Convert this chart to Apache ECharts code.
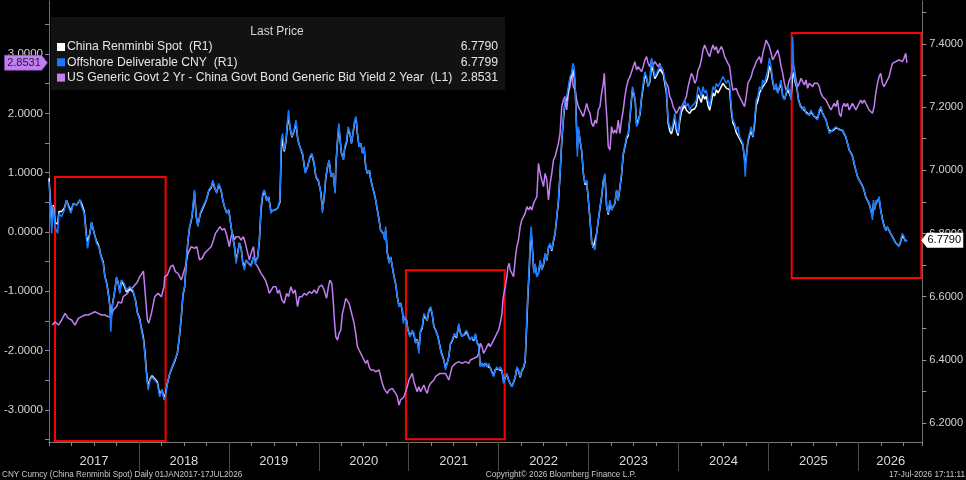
<!DOCTYPE html>
<html>
<head>
<meta charset="utf-8">
<style>
html, body { margin: 0; padding: 0; background: #000; }
#main { width: 966px; height: 480px; }
</style>
<script src="https://cdn.jsdelivr.net/npm/echarts@6/dist/echarts.min.js"></script>
</head>
<body>
<div id="main"></div>
<script>
// US 2Y minus China 2Y yield spread (left axis), [year, value]
var spreadData = [
[2017.037,-1.569],[2017.067,-1.512],[2017.104,-1.569],[2017.141,-1.484],[2017.178,-1.372],[2017.215,-1.456],[2017.252,-1.484],[2017.289,-1.569],[2017.326,-1.456],[2017.363,-1.428],[2017.399,-1.400],[2017.436,-1.400],[2017.473,-1.372],[2017.510,-1.344],[2017.547,-1.372],[2017.584,-1.400],[2017.621,-1.400],[2017.658,-1.428],[2017.688,-1.428],[2017.714,-1.316],[2017.732,-1.30],[2017.751,-1.259],[2017.770,-1.18],[2017.788,-1.147],[2017.806,-1.20],[2017.825,-1.09],[2017.843,-1.063],[2017.870,-1.04],[2017.898,-0.978],[2017.920,-0.99],[2017.935,-0.93],[2017.954,-0.894],[2017.980,-0.85],[2018.009,-0.754],[2018.030,-0.74],[2018.050,-0.66],[2018.065,-0.641],[2018.076,-1.147],[2018.094,-1.484],[2018.109,-1.540],[2018.139,-1.372],[2018.176,-1.091],[2018.213,-1.035],[2018.250,-1.091],[2018.279,-0.922],[2018.287,-0.754],[2018.316,-0.726],[2018.353,-0.585],[2018.379,-0.557],[2018.405,-0.669],[2018.434,-0.697],[2018.471,-0.810],[2018.490,-0.782],[2018.516,-0.585],[2018.545,-0.360],[2018.582,-0.248],
[2018.593,-0.248],[2018.618,-0.276],[2018.644,-0.248],[2018.674,-0.472],[2018.703,-0.444],[2018.729,-0.360],[2018.766,-0.304],[2018.803,-0.248],[2018.829,-0.135],[2018.851,-0.023],[2018.877,0.033],[2018.903,0.090],[2018.925,0.033],[2018.951,0.061],[2018.970,-0.023],[2018.988,-0.135],[2019.006,-0.248],[2019.025,-0.079],[2019.043,-0.023],[2019.062,-0.135],[2019.080,-0.079],[2019.110,-0.079],[2019.136,-0.135],[2019.162,-0.079],[2019.184,-0.191],[2019.210,-0.360],[2019.228,-0.472],[2019.247,-0.360],[2019.273,-0.248],[2019.295,-0.529],[2019.321,-0.585],[2019.339,-0.585],[2019.358,-0.697],[2019.383,-0.754],[2019.406,-0.810],[2019.431,-0.922],[2019.450,-1.035],[2019.468,-1.007],[2019.494,-0.922],[2019.524,-0.922],[2019.542,-1.035],[2019.561,-0.978],[2019.590,-1.147],[2019.616,-1.203],[2019.642,-1.035],[2019.664,-1.091],[2019.690,-0.922],[2019.716,-1.035],[2019.738,-0.978],[2019.764,-1.259],[2019.783,-1.091],[2019.812,-1.091],[2019.838,-1.035],[2019.864,-1.063],[2019.893,-1.007],[2019.923,-1.035],[2019.949,-0.978],[2019.975,-1.035],[2020.004,-0.922],[2020.034,-0.894],[2020.060,-0.978],[2020.086,-1.119],[2020.108,-0.922],[2020.123,-0.810],[2020.145,-0.866],[2020.160,-1.147],[2020.174,-1.484],
[2020.189,-1.765],[2020.208,-1.822],[2020.226,-1.709],[2020.245,-1.653],[2020.263,-1.372],[2020.282,-1.259],[2020.300,-1.119],[2020.319,-1.147],[2020.337,-1.203],[2020.356,-1.316],[2020.374,-1.428],[2020.393,-1.540],[2020.411,-1.709],[2020.430,-1.934],[2020.448,-1.990],[2020.467,-2.046],[2020.485,-2.103],[2020.504,-2.103],[2020.522,-2.215],[2020.541,-2.159],[2020.559,-2.271],[2020.578,-2.327],[2020.607,-2.327],[2020.633,-2.356],[2020.651,-2.384],[2020.670,-2.327],[2020.688,-2.440],[2020.707,-2.552],[2020.725,-2.636],[2020.744,-2.665],[2020.762,-2.721],[2020.781,-2.665],[2020.799,-2.693],[2020.818,-2.636],[2020.836,-2.665],[2020.855,-2.721],[2020.873,-2.777],[2020.892,-2.918],[2020.910,-2.833],[2020.929,-2.805],[2020.947,-2.777],[2020.966,-2.693],[2020.984,-2.608],[2021.003,-2.496],[2021.021,-2.440],[2021.040,-2.384],[2021.058,-2.524],[2021.076,-2.608],[2021.095,-2.693],[2021.113,-2.608],[2021.132,-2.693],[2021.150,-2.665],[2021.169,-2.580],[2021.187,-2.665],[2021.206,-2.721],[2021.224,-2.608],[2021.243,-2.552],[2021.261,-2.552],[2021.280,-2.496],[2021.298,-2.440],[2021.317,-2.440],[2021.346,-2.384],[2021.372,-2.384],[2021.391,-2.412],[2021.409,-2.384],[2021.428,-2.384],[2021.446,-2.496],[2021.464,-2.384],[2021.483,-2.271],[2021.501,-2.271],[2021.520,-2.215],[2021.538,-2.215],[2021.557,-2.187],[2021.575,-2.159],[2021.594,-2.215],[2021.612,-2.243],[2021.631,-2.187],[2021.649,-2.159],[2021.668,-2.215],[2021.686,-2.159],[2021.705,-2.159],[2021.723,-2.131],[2021.742,-2.103],[2021.760,-2.103],[2021.779,-2.046],
[2021.796,-1.878],[2021.815,-1.934],[2021.833,-2.046],[2021.852,-1.990],[2021.870,-1.934],[2021.889,-1.878],[2021.907,-1.934],[2021.926,-1.878],[2021.944,-1.822],[2021.963,-1.822],[2021.981,-1.709],[2022.000,-1.653],[2022.018,-1.540],[2022.037,-1.372],[2022.048,-1.147],[2022.059,-1.035],[2022.074,-0.922],[2022.092,-0.754],[2022.103,-0.585],[2022.118,-0.529],[2022.129,-0.641],[2022.148,-0.697],[2022.166,-0.754],[2022.177,-0.585],[2022.192,-0.360],[2022.203,-0.248],[2022.221,-0.135],[2022.240,0.090],[2022.258,0.202],[2022.277,0.258],[2022.295,0.315],[2022.314,0.427],[2022.332,0.371],[2022.351,0.427],[2022.369,0.371],[2022.388,0.483],[2022.406,0.539],[2022.425,0.596],[2022.443,1.158],[2022.462,0.989],[2022.480,0.877],[2022.499,0.764],[2022.517,0.989],[2022.536,0.877],[2022.554,0.539],[2022.573,0.820],[2022.591,0.989],[2022.610,1.214],[2022.628,1.270],[2022.646,1.383],[2022.665,1.495],[2022.683,1.664],[2022.702,2.113],[2022.720,2.226],[2022.739,2.282],[2022.757,2.057],[2022.776,2.338],[2022.794,2.451],[2022.813,2.675],[2022.831,2.451],[2022.850,2.394],[2022.868,2.226],[2022.887,2.113],[2022.905,2.057],[2022.924,2.001],[2022.942,1.945],[2022.961,2.057],[2022.979,2.169],[2022.998,2.057],[2023.016,2.001],[2023.035,1.832],[2023.053,1.776],[2023.072,1.888],[2023.090,1.832],[2023.108,2.057],[2023.127,2.113],[2023.145,2.338],[2023.164,2.507],[2023.175,2.675],[2023.190,2.226],[2023.205,1.888],[2023.219,1.439],[2023.238,1.383],[2023.256,1.776],[2023.275,1.664],[2023.293,1.720],[2023.312,1.664],[2023.330,1.888],[2023.349,1.664],[2023.367,1.888],[2023.386,2.057],
[2023.404,2.282],[2023.423,2.451],[2023.441,2.563],[2023.460,2.619],[2023.478,2.591],[2023.497,2.788],[2023.515,2.872],[2023.534,2.732],[2023.552,2.788],[2023.571,2.816],[2023.589,2.704],[2023.608,2.788],[2023.626,2.900],[2023.645,2.956],[2023.663,2.844],[2023.682,2.788],[2023.700,2.900],[2023.719,2.816],[2023.737,2.872],[2023.756,2.844],[2023.774,2.788],[2023.793,2.844],[2023.811,2.732],[2023.830,2.675],[2023.848,2.563],[2023.866,2.507],[2023.885,2.451],[2023.903,2.282],[2023.922,2.226],[2023.940,2.113],[2023.959,2.057],[2023.977,2.001],[2023.996,2.057],[2024.014,2.113],[2024.033,2.057],[2024.051,2.113],[2024.070,2.226],[2024.088,2.282],[2024.107,2.451],[2024.125,2.563],[2024.144,2.675],[2024.162,2.619],[2024.181,2.507],[2024.199,2.563],[2024.218,2.732],[2024.236,2.788],[2024.254,2.900],[2024.273,3.069],[2024.291,3.153],[2024.310,3.125],[2024.328,3.013],[2024.347,2.956],[2024.365,3.069],[2024.384,3.153],[2024.402,3.069],[2024.421,3.125],[2024.439,3.013],[2024.458,3.069],[2024.476,3.125],[2024.495,3.069],[2024.513,2.956],[2024.532,2.928],[2024.550,2.844],[2024.569,2.788],[2024.587,2.563],[2024.605,2.394],[2024.624,2.394],[2024.642,2.422],[2024.661,2.338],[2024.679,2.282],[2024.698,2.226],[2024.716,2.169],[2024.735,2.113],[2024.753,2.282],[2024.772,2.507],[2024.790,2.563],[2024.809,2.619],[2024.827,2.732],[2024.846,2.788],[2024.864,2.872],[2024.883,2.900],[2024.901,2.956],[2024.920,2.844],[2024.938,3.013],[2024.957,3.125],[2024.975,3.238],[2024.994,3.266],
[2025.011,3.125],[2025.030,3.013],[2025.048,2.900],[2025.067,2.956],[2025.085,3.013],[2025.104,3.069],[2025.122,2.956],[2025.141,2.788],[2025.159,2.675],[2025.178,2.507],[2025.196,2.394],[2025.215,2.451],[2025.233,2.563],[2025.252,2.619],[2025.270,2.844],[2025.289,2.732],[2025.307,2.563],[2025.326,2.451],[2025.344,2.507],[2025.363,2.591],[2025.381,2.535],[2025.400,2.479],[2025.418,2.563],[2025.436,2.422],[2025.455,2.507],[2025.473,2.535],[2025.492,2.451],[2025.510,2.507],[2025.529,2.535],[2025.547,2.507],[2025.566,2.451],[2025.584,2.338],[2025.603,2.282],[2025.621,2.310],[2025.640,2.226],[2025.658,2.169],[2025.677,2.113],[2025.695,2.057],[2025.714,2.113],[2025.732,2.169],[2025.751,2.113],[2025.769,2.226],[2025.788,2.001],[2025.806,1.945],[2025.825,2.113],[2025.843,2.169],[2025.861,2.113],[2025.880,2.169],[2025.898,2.057],[2025.917,2.113],[2025.935,2.169],[2025.954,2.113],[2025.972,2.057],[2025.991,2.113],[2026.009,2.169],[2026.028,2.226],[2026.046,2.169],[2026.065,2.226],[2026.083,2.169],[2026.102,2.141],[2026.120,2.057],[2026.139,2.085],[2026.157,2.001],[2026.176,2.113],[2026.194,2.338],[2026.213,2.507],[2026.231,2.619],[2026.249,2.675],[2026.268,2.507],[2026.286,2.451],[2026.305,2.507],[2026.323,2.563],[2026.342,2.619],[2026.360,2.732],[2026.379,2.844],[2026.397,2.816],[2026.416,2.872],[2026.434,2.844],[2026.453,2.900],[2026.471,2.928],[2026.490,2.872],[2026.508,2.928],[2026.527,3.013],[2026.540,2.8531]
];

// Offshore deliverable CNY (right axis), [year, value]
var offshoreData = [
[2017.000,6.964],[2017.015,6.895],[2017.030,6.800],[2017.048,6.885],[2017.067,6.822],[2017.096,6.800],[2017.111,6.864],[2017.141,6.853],[2017.170,6.874],[2017.196,6.906],[2017.215,6.885],[2017.244,6.864],[2017.270,6.895],[2017.307,6.890],[2017.344,6.906],[2017.362,6.885],[2017.392,6.864],[2017.418,6.779],[2017.429,6.753],[2017.455,6.800],[2017.473,6.837],[2017.503,6.800],[2017.529,6.769],[2017.555,6.758],[2017.577,6.727],[2017.603,6.705],[2017.621,6.663],[2017.640,6.642],[2017.658,6.610],[2017.677,6.568],[2017.688,6.489],[2017.703,6.568],[2017.732,6.621],[2017.751,6.663],[2017.769,6.642],[2017.788,6.610],[2017.806,6.653],[2017.836,6.642],[2017.861,6.621],[2017.898,6.632],[2017.935,6.621],[2017.961,6.589],[2017.983,6.547],[2018.009,6.526],[2018.028,6.494],[2018.050,6.463],[2018.065,6.420],[2018.083,6.357],[2018.102,6.304],[2018.124,6.336],[2018.146,6.346],[2018.176,6.336],[2018.205,6.325],[2018.231,6.283],[2018.257,6.304],[2018.279,6.273],[2018.294,6.283],[2018.316,6.325],[2018.342,6.357],[2018.368,6.378],[2018.397,6.399],[2018.427,6.420],[2018.453,6.484],[2018.471,6.537],[2018.490,6.610],[2018.508,6.632],[2018.527,6.716],[2018.545,6.779],[2018.564,6.822],[2018.582,6.843],
[2018.593,6.864],[2018.618,6.938],[2018.637,6.853],[2018.655,6.822],[2018.681,6.864],[2018.711,6.885],[2018.748,6.906],[2018.777,6.938],[2018.803,6.948],[2018.822,6.969],[2018.840,6.948],[2018.866,6.927],[2018.888,6.959],[2018.914,6.938],[2018.933,6.906],[2018.951,6.885],[2018.977,6.864],[2018.999,6.874],[2019.014,6.843],[2019.036,6.800],[2019.062,6.758],[2019.080,6.705],[2019.099,6.737],[2019.117,6.769],[2019.136,6.758],[2019.154,6.705],[2019.173,6.684],[2019.191,6.716],[2019.221,6.705],[2019.247,6.695],[2019.273,6.727],[2019.295,6.705],[2019.321,6.727],[2019.339,6.779],[2019.358,6.885],[2019.376,6.927],[2019.395,6.938],[2019.420,6.906],[2019.443,6.917],[2019.468,6.864],[2019.487,6.874],[2019.516,6.874],[2019.542,6.880],[2019.568,6.906],[2019.583,7.096],[2019.598,7.117],[2019.616,7.064],[2019.635,7.096],[2019.653,7.159],[2019.664,7.191],[2019.679,7.138],[2019.701,7.107],[2019.727,7.128],[2019.746,7.159],[2019.768,7.096],[2019.790,7.075],[2019.820,7.054],[2019.849,6.990],[2019.875,7.012],[2019.901,7.043],[2019.923,7.054],[2019.949,7.022],[2019.967,6.980],[2019.997,6.969],[2020.023,6.927],[2020.041,6.864],[2020.060,6.917],[2020.078,6.980],[2020.097,7.012],[2020.115,7.033],[2020.137,6.980],[2020.160,6.990],[2020.182,6.927],
[2020.189,7.012],[2020.208,7.096],[2020.223,7.149],[2020.238,7.096],[2020.252,7.054],[2020.274,7.033],[2020.289,7.075],[2020.311,7.096],[2020.326,7.138],[2020.348,7.117],[2020.363,7.085],[2020.385,7.128],[2020.400,7.159],[2020.415,7.170],[2020.430,7.117],[2020.448,7.075],[2020.467,7.085],[2020.485,7.054],[2020.504,7.075],[2020.522,7.012],[2020.541,6.990],[2020.563,7.001],[2020.578,6.969],[2020.596,6.948],[2020.614,6.927],[2020.633,6.906],[2020.651,6.874],[2020.670,6.843],[2020.688,6.811],[2020.718,6.800],[2020.733,6.779],[2020.744,6.822],[2020.762,6.737],[2020.781,6.705],[2020.799,6.727],[2020.818,6.695],[2020.836,6.663],[2020.855,6.642],[2020.873,6.600],[2020.892,6.568],[2020.910,6.579],[2020.929,6.558],[2020.940,6.515],[2020.954,6.537],[2020.977,6.526],[2020.991,6.494],[2021.014,6.473],[2021.039,6.494],[2021.058,6.484],[2021.076,6.452],[2021.095,6.463],[2021.113,6.420],[2021.132,6.494],[2021.150,6.505],[2021.169,6.547],[2021.187,6.537],[2021.206,6.526],[2021.224,6.558],[2021.243,6.568],[2021.261,6.547],[2021.280,6.505],[2021.298,6.494],[2021.324,6.473],[2021.346,6.442],[2021.361,6.420],[2021.391,6.399],[2021.409,6.368],[2021.428,6.389],[2021.446,6.410],[2021.464,6.452],[2021.483,6.463],[2021.509,6.484],[2021.531,6.473],[2021.557,6.515],[2021.575,6.484],[2021.594,6.473],[2021.620,6.484],[2021.642,6.494],[2021.657,6.484],[2021.679,6.463],[2021.705,6.473],[2021.723,6.463],[2021.742,6.484],[2021.760,6.452],[2021.779,6.442],
[2021.796,6.378],[2021.815,6.389],[2021.833,6.378],[2021.852,6.389],[2021.870,6.378],[2021.889,6.389],[2021.907,6.373],[2021.926,6.368],[2021.944,6.347],[2021.963,6.368],[2021.981,6.378],[2022.000,6.368],[2022.018,6.378],[2022.037,6.368],[2022.055,6.325],[2022.074,6.347],[2022.092,6.357],[2022.111,6.336],[2022.129,6.325],[2022.148,6.315],[2022.166,6.320],[2022.185,6.347],[2022.203,6.378],[2022.221,6.368],[2022.240,6.347],[2022.258,6.368],[2022.277,6.378],[2022.295,6.399],[2022.314,6.537],[2022.325,6.610],[2022.340,6.695],[2022.351,6.779],[2022.362,6.822],[2022.377,6.748],[2022.391,6.674],[2022.406,6.705],[2022.425,6.663],[2022.443,6.674],[2022.462,6.716],[2022.480,6.684],[2022.499,6.705],[2022.517,6.737],[2022.536,6.716],[2022.554,6.758],[2022.573,6.769],[2022.591,6.748],[2022.610,6.779],[2022.628,6.800],[2022.646,6.853],[2022.665,6.906],[2022.683,6.990],[2022.702,7.096],[2022.720,7.170],[2022.739,7.223],[2022.757,7.233],[2022.776,7.265],[2022.794,7.297],[2022.813,7.307],[2022.824,7.339],[2022.839,7.328],[2022.850,7.286],[2022.861,7.170],[2022.876,7.043],[2022.887,7.138],[2022.905,7.096],[2022.924,7.064],[2022.942,6.990],[2022.961,6.959],[2022.979,6.969],[2022.998,6.906],[2023.016,6.843],[2023.035,6.769],[2023.053,6.758],[2023.072,6.748],[2023.090,6.800],[2023.108,6.843],[2023.127,6.885],[2023.145,6.917],[2023.164,6.969],[2023.182,6.990],[2023.201,6.885],[2023.219,6.864],[2023.238,6.906],[2023.256,6.874],[2023.275,6.885],[2023.293,6.896],[2023.312,6.938],[2023.330,6.906],[2023.349,6.948],[2023.367,6.990],[2023.386,7.054],
[2023.423,7.107],[2023.441,7.117],[2023.460,7.170],[2023.478,7.233],[2023.489,7.265],[2023.504,7.244],[2023.519,7.223],[2023.534,7.138],[2023.552,7.149],[2023.571,7.180],[2023.589,7.233],[2023.608,7.275],[2023.626,7.312],[2023.645,7.297],[2023.663,7.265],[2023.682,7.286],[2023.700,7.355],[2023.719,7.328],[2023.737,7.297],[2023.756,7.307],[2023.774,7.318],[2023.793,7.333],[2023.811,7.328],[2023.830,7.318],[2023.848,7.286],[2023.866,7.254],[2023.885,7.159],[2023.903,7.138],[2023.922,7.128],[2023.940,7.149],[2023.959,7.180],[2023.977,7.138],[2023.996,7.117],[2024.014,7.170],[2024.033,7.202],[2024.051,7.212],[2024.070,7.223],[2024.088,7.202],[2024.107,7.212],[2024.125,7.191],[2024.144,7.202],[2024.162,7.202],[2024.181,7.212],[2024.199,7.223],[2024.218,7.265],[2024.236,7.254],[2024.254,7.233],[2024.273,7.265],[2024.291,7.244],[2024.310,7.254],[2024.328,7.223],[2024.347,7.202],[2024.365,7.233],[2024.384,7.265],[2024.402,7.254],[2024.421,7.275],[2024.439,7.265],[2024.458,7.275],[2024.476,7.286],[2024.495,7.297],[2024.513,7.302],[2024.532,7.275],[2024.550,7.286],[2024.569,7.275],[2024.587,7.202],[2024.605,7.159],[2024.624,7.149],[2024.642,7.128],[2024.661,7.138],[2024.679,7.107],[2024.698,7.096],[2024.716,7.085],[2024.731,7.043],[2024.742,6.980],[2024.753,7.033],[2024.772,7.096],[2024.790,7.117],[2024.809,7.138],[2024.827,7.107],[2024.846,7.159],[2024.864,7.223],[2024.883,7.233],[2024.901,7.265],[2024.920,7.254],[2024.938,7.286],[2024.957,7.275],[2024.975,7.297],[2024.994,7.318],
[2025.011,7.355],[2025.030,7.328],[2025.048,7.286],[2025.067,7.254],[2025.085,7.275],[2025.104,7.244],[2025.122,7.265],[2025.141,7.286],[2025.159,7.233],[2025.178,7.223],[2025.196,7.244],[2025.215,7.265],[2025.233,7.254],[2025.252,7.223],[2025.270,7.423],[2025.281,7.328],[2025.296,7.286],[2025.318,7.265],[2025.333,7.223],[2025.355,7.202],[2025.381,7.191],[2025.400,7.202],[2025.418,7.180],[2025.436,7.186],[2025.455,7.175],[2025.473,7.191],[2025.492,7.180],[2025.510,7.170],[2025.529,7.175],[2025.547,7.159],[2025.566,7.191],[2025.584,7.202],[2025.603,7.180],[2025.621,7.175],[2025.640,7.159],[2025.658,7.138],[2025.677,7.117],[2025.695,7.122],[2025.714,7.128],[2025.732,7.133],[2025.751,7.138],[2025.769,7.143],[2025.788,7.128],[2025.806,7.122],[2025.825,7.128],[2025.843,7.117],[2025.861,7.107],[2025.880,7.085],[2025.898,7.064],[2025.917,7.054],[2025.935,7.043],[2025.954,7.022],[2025.972,7.001],[2025.991,6.980],[2026.009,6.969],[2026.028,6.959],[2026.046,6.948],[2026.065,6.938],[2026.083,6.917],[2026.102,6.906],[2026.120,6.896],[2026.139,6.874],[2026.157,6.843],[2026.168,6.906],[2026.183,6.874],[2026.198,6.906],[2026.213,6.896],[2026.231,6.917],[2026.249,6.874],[2026.268,6.843],[2026.286,6.822],[2026.305,6.811],[2026.323,6.822],[2026.342,6.811],[2026.360,6.800],[2026.379,6.790],[2026.397,6.790],[2026.416,6.769],[2026.434,6.764],[2026.453,6.758],[2026.471,6.779],[2026.490,6.800],[2026.508,6.790],[2026.527,6.774],[2026.540,6.7799]
];

// China Renminbi spot (right axis), [year, value]
var spotData = [
[2017.000,6.975],[2017.015,6.905],[2017.030,6.83],[2017.048,6.89],[2017.067,6.835],[2017.096,6.83],[2017.111,6.87],[2017.141,6.87],[2017.170,6.88],[2017.196,6.905],[2017.215,6.89],[2017.244,6.87],[2017.270,6.895],[2017.307,6.89],[2017.344,6.906],[2017.362,6.895],[2017.392,6.87],[2017.418,6.79],[2017.429,6.775],[2017.455,6.80],[2017.473,6.835],[2017.503,6.80],[2017.529,6.775],[2017.555,6.76],[2017.577,6.73],[2017.603,6.71],[2017.621,6.665],[2017.640,6.645],[2017.658,6.615],[2017.677,6.57],[2017.688,6.52],[2017.703,6.57],[2017.732,6.62],[2017.751,6.66],[2017.769,6.645],[2017.788,6.615],[2017.806,6.65],[2017.836,6.635],[2017.861,6.615],[2017.898,6.625],[2017.935,6.615],[2017.961,6.59],[2017.983,6.55],[2018.009,6.53],[2018.028,6.50],[2018.050,6.47],[2018.065,6.43],[2018.083,6.365],[2018.102,6.315],[2018.124,6.34],[2018.146,6.35],[2018.176,6.34],[2018.205,6.33],[2018.231,6.29],[2018.257,6.305],[2018.279,6.28],[2018.294,6.29],[2018.316,6.325],[2018.342,6.355],[2018.368,6.375],[2018.397,6.395],[2018.427,6.42],[2018.453,6.48],[2018.471,6.535],[2018.490,6.605],[2018.508,6.63],[2018.527,6.71],[2018.545,6.775],[2018.564,6.82],[2018.582,6.84],
[2018.593,6.86],[2018.618,6.93],[2018.637,6.855],[2018.655,6.825],[2018.681,6.86],[2018.711,6.88],[2018.748,6.905],[2018.777,6.935],[2018.803,6.945],[2018.822,6.965],[2018.840,6.945],[2018.866,6.93],[2018.888,6.955],[2018.914,6.935],[2018.933,6.905],[2018.951,6.885],[2018.977,6.865],[2018.999,6.875],[2019.014,6.845],[2019.036,6.80],[2019.062,6.76],[2019.080,6.715],[2019.099,6.74],[2019.117,6.77],[2019.136,6.755],[2019.154,6.71],[2019.173,6.695],[2019.191,6.715],[2019.221,6.705],[2019.247,6.70],[2019.273,6.725],[2019.295,6.71],[2019.321,6.725],[2019.339,6.775],[2019.358,6.875],[2019.376,6.92],[2019.395,6.935],[2019.420,6.905],[2019.443,6.915],[2019.468,6.87],[2019.487,6.875],[2019.516,6.875],[2019.542,6.88],[2019.568,6.90],[2019.583,7.06],[2019.598,7.10],[2019.616,7.06],[2019.635,7.09],[2019.653,7.15],[2019.664,7.17],[2019.679,7.135],[2019.701,7.105],[2019.727,7.125],[2019.746,7.15],[2019.768,7.095],[2019.790,7.075],[2019.820,7.05],[2019.849,6.995],[2019.875,7.01],[2019.901,7.04],[2019.923,7.05],[2019.949,7.02],[2019.967,6.98],[2019.997,6.965],[2020.023,6.93],[2020.041,6.875],[2020.060,6.915],[2020.078,6.975],[2020.097,7.01],[2020.115,7.03],[2020.137,6.98],[2020.160,6.99],[2020.182,6.93],
[2020.189,7.01],[2020.208,7.09],[2020.223,7.14],[2020.238,7.095],[2020.252,7.055],[2020.274,7.035],[2020.289,7.07],[2020.311,7.09],[2020.326,7.13],[2020.348,7.115],[2020.363,7.085],[2020.385,7.125],[2020.400,7.155],[2020.415,7.165],[2020.430,7.115],[2020.448,7.075],[2020.467,7.085],[2020.485,7.055],[2020.504,7.07],[2020.522,7.01],[2020.541,6.99],[2020.563,7.00],[2020.578,6.97],[2020.596,6.95],[2020.614,6.93],[2020.633,6.905],[2020.651,6.875],[2020.670,6.845],[2020.688,6.81],[2020.718,6.80],[2020.733,6.785],[2020.744,6.81],[2020.762,6.74],[2020.781,6.71],[2020.799,6.725],[2020.818,6.695],[2020.836,6.665],[2020.855,6.64],[2020.873,6.60],[2020.892,6.57],[2020.910,6.58],[2020.929,6.555],[2020.940,6.525],[2020.954,6.535],[2020.977,6.525],[2020.991,6.495],[2021.014,6.475],[2021.039,6.49],[2021.058,6.48],[2021.076,6.455],[2021.095,6.465],[2021.113,6.43],[2021.132,6.49],[2021.150,6.50],[2021.169,6.54],[2021.187,6.535],[2021.206,6.525],[2021.224,6.555],[2021.243,6.565],[2021.261,6.545],[2021.280,6.505],[2021.298,6.495],[2021.324,6.475],[2021.346,6.445],[2021.361,6.425],[2021.391,6.40],[2021.409,6.375],[2021.428,6.39],[2021.446,6.41],[2021.464,6.45],[2021.483,6.46],[2021.509,6.48],[2021.531,6.47],[2021.557,6.51],[2021.575,6.485],[2021.594,6.475],[2021.620,6.48],[2021.642,6.49],[2021.657,6.48],[2021.679,6.465],[2021.705,6.47],[2021.723,6.46],[2021.742,6.48],[2021.760,6.455],[2021.779,6.445],
[2021.796,6.38],[2021.815,6.39],[2021.833,6.38],[2021.852,6.39],[2021.870,6.38],[2021.889,6.385],[2021.907,6.375],[2021.926,6.37],[2021.944,6.35],[2021.963,6.37],[2021.981,6.375],[2022.000,6.37],[2022.018,6.375],[2022.037,6.365],[2022.055,6.33],[2022.074,6.345],[2022.092,6.355],[2022.111,6.335],[2022.129,6.325],[2022.148,6.315],[2022.166,6.32],[2022.185,6.345],[2022.203,6.375],[2022.221,6.365],[2022.240,6.345],[2022.258,6.365],[2022.277,6.375],[2022.295,6.395],[2022.314,6.52],[2022.325,6.60],[2022.340,6.68],[2022.351,6.76],[2022.362,6.80],[2022.377,6.745],[2022.391,6.68],[2022.406,6.70],[2022.425,6.665],[2022.443,6.675],[2022.462,6.71],[2022.480,6.685],[2022.499,6.70],[2022.517,6.735],[2022.536,6.715],[2022.554,6.755],[2022.573,6.765],[2022.591,6.745],[2022.610,6.775],[2022.628,6.80],[2022.646,6.85],[2022.665,6.90],[2022.683,6.985],[2022.702,7.09],[2022.720,7.16],[2022.739,7.215],[2022.757,7.225],[2022.776,7.255],[2022.794,7.29],[2022.813,7.30],[2022.824,7.32],[2022.839,7.315],[2022.850,7.28],[2022.861,7.18],[2022.876,7.07],[2022.887,7.13],[2022.905,7.095],[2022.924,7.06],[2022.942,6.99],[2022.961,6.955],[2022.979,6.965],[2022.998,6.905],[2023.016,6.845],[2023.035,6.775],[2023.053,6.755],[2023.072,6.76],[2023.090,6.80],[2023.108,6.84],[2023.127,6.88],[2023.145,6.915],[2023.164,6.965],[2023.182,6.985],[2023.201,6.885],[2023.219,6.86],[2023.238,6.90],[2023.256,6.875],[2023.275,6.885],[2023.293,6.895],[2023.312,6.935],[2023.330,6.905],[2023.349,6.945],[2023.367,6.985],[2023.386,7.05],
[2023.423,7.10],[2023.441,7.11],[2023.460,7.165],[2023.478,7.225],[2023.489,7.255],[2023.504,7.24],[2023.519,7.22],[2023.534,7.145],[2023.552,7.15],[2023.571,7.175],[2023.589,7.225],[2023.608,7.265],[2023.626,7.30],[2023.645,7.29],[2023.663,7.265],[2023.682,7.28],[2023.700,7.33],[2023.719,7.315],[2023.737,7.29],[2023.756,7.30],[2023.774,7.31],[2023.793,7.32],[2023.811,7.315],[2023.830,7.305],[2023.848,7.275],[2023.866,7.245],[2023.885,7.15],[2023.903,7.125],[2023.922,7.115],[2023.940,7.135],[2023.959,7.165],[2023.977,7.125],[2023.996,7.11],[2024.014,7.155],[2024.033,7.185],[2024.051,7.195],[2024.070,7.205],[2024.088,7.19],[2024.107,7.195],[2024.125,7.18],[2024.144,7.19],[2024.162,7.19],[2024.181,7.195],[2024.199,7.205],[2024.218,7.24],[2024.236,7.235],[2024.254,7.215],[2024.273,7.24],[2024.291,7.225],[2024.310,7.235],[2024.328,7.205],[2024.347,7.19],[2024.365,7.215],[2024.384,7.245],[2024.402,7.235],[2024.421,7.255],[2024.439,7.245],[2024.458,7.255],[2024.476,7.265],[2024.495,7.275],[2024.513,7.28],[2024.532,7.26],[2024.550,7.265],[2024.569,7.255],[2024.587,7.19],[2024.605,7.15],[2024.624,7.14],[2024.642,7.12],[2024.661,7.125],[2024.679,7.10],[2024.698,7.09],[2024.716,7.08],[2024.731,7.045],[2024.742,7.02],[2024.753,7.04],[2024.772,7.09],[2024.790,7.11],[2024.809,7.125],[2024.827,7.105],[2024.846,7.145],[2024.864,7.205],[2024.883,7.22],[2024.901,7.245],[2024.920,7.24],[2024.938,7.265],[2024.957,7.26],[2024.975,7.28],[2024.994,7.295],
[2025.011,7.33],[2025.030,7.315],[2025.048,7.28],[2025.067,7.255],[2025.085,7.27],[2025.104,7.245],[2025.122,7.26],[2025.141,7.275],[2025.159,7.235],[2025.178,7.225],[2025.196,7.24],[2025.215,7.255],[2025.233,7.25],[2025.252,7.23],[2025.270,7.30],[2025.281,7.31],[2025.296,7.28],[2025.318,7.26],[2025.333,7.225],[2025.355,7.205],[2025.381,7.195],[2025.400,7.20],[2025.418,7.185],[2025.436,7.185],[2025.455,7.175],[2025.473,7.185],[2025.492,7.18],[2025.510,7.17],[2025.529,7.175],[2025.547,7.165],[2025.566,7.185],[2025.584,7.195],[2025.603,7.18],[2025.621,7.175],[2025.640,7.16],[2025.658,7.14],[2025.677,7.125],[2025.695,7.12],[2025.714,7.125],[2025.732,7.13],[2025.751,7.135],[2025.769,7.14],[2025.788,7.13],[2025.806,7.125],[2025.825,7.125],[2025.843,7.12],[2025.861,7.105],[2025.880,7.085],[2025.898,7.065],[2025.917,7.055],[2025.935,7.045],[2025.954,7.02],[2025.972,7.00],[2025.991,6.98],[2026.009,6.97],[2026.028,6.96],[2026.046,6.95],[2026.065,6.935],[2026.083,6.915],[2026.102,6.905],[2026.120,6.895],[2026.139,6.875],[2026.157,6.855],[2026.168,6.895],[2026.183,6.88],[2026.198,6.90],[2026.213,6.895],[2026.231,6.91],[2026.249,6.875],[2026.268,6.845],[2026.286,6.825],[2026.305,6.81],[2026.323,6.82],[2026.342,6.81],[2026.360,6.80],[2026.379,6.79],[2026.397,6.79],[2026.416,6.77],[2026.434,6.765],[2026.453,6.76],[2026.471,6.775],[2026.490,6.795],[2026.508,6.79],[2026.527,6.775],[2026.540,6.779]
];

var seriesNames = ['China Renminbi Spot  (R1)', 'Offshore Deliverable CNY  (R1)', 'US Generic Govt 2 Yr - China Govt Bond Generic Bid Yield 2 Year  (L1)'];
var lastPrices = [6.7790, 6.7799, 2.8531];

var yearBreaks = [2018, 2019, 2020, 2021, 2022, 2023, 2024, 2025, 2026];
var yearLabelAt = [2017.5, 2018.5, 2019.5, 2020.5, 2021.5, 2022.5, 2023.5, 2024.5, 2025.5, 2026.36];
var leftLabels = [-3, -2, -1, 0, 1, 2, 3];
var leftTicks = [-3.5, -3, -2.5, -2, -1.5, -1, -0.5, 0, 0.5, 1, 1.5, 2, 2.5, 3, 3.5];
var rightLabels = [6.2, 6.4, 6.6, 6.8, 7.0, 7.2, 7.4];
var rightTicks = [6.2, 6.3, 6.4, 6.5, 6.6, 6.7, 6.8, 6.9, 7.0, 7.1, 7.2, 7.3, 7.4, 7.5];

// highlighted periods: [fromYear, topCny, toYear, bottomCny]
var boxes = [
  [2017.067, 6.979, 2018.297, 6.143],
  [2020.969, 6.684, 2022.067, 6.149],
  [2025.259, 7.435, 2026.70, 6.659]
];

var X_MIN = 2017, X_MAX = 2026.712;
var FONT = "'Liberation Sans', Arial, sans-serif";
var WHITE = '#ffffff', BLUE = '#1779ff', PURPLE = '#c27ef2';

var chart = echarts.init(document.getElementById('main'));

var legendGraphics = [
  {type: 'rect', shape: {x: 51, y: 17, width: 454, height: 73}, style: {fill: '#121212'}, z: 10},
  {type: 'text', x: 277, y: 32, z: 11, style: {text: 'Last Price', fill: '#d9d9d9', font: '12px ' + FONT, align: 'center', verticalAlign: 'middle'}}
];
var rowColors = [WHITE, BLUE, PURPLE];
for (var i = 0; i < seriesNames.length; i++) {
  var ry = 47 + i * 15.3;
  legendGraphics.push({type: 'rect', shape: {x: 57, y: ry - 4, width: 8, height: 8}, style: {fill: rowColors[i]}, z: 11});
  legendGraphics.push({type: 'text', x: 67, y: ry, z: 11, style: {text: seriesNames[i], fill: '#e6e6e6', font: '12.2px ' + FONT, verticalAlign: 'middle'}});
  legendGraphics.push({type: 'text', x: 498, y: ry, z: 11, style: {text: lastPrices[i].toFixed(4), fill: '#e6e6e6', font: '12.2px ' + FONT, align: 'right', verticalAlign: 'middle'}});
}
// footer: small condensed text, squeezed horizontally
var footer = [
  {type: 'text', x: 2, y: 474, scaleX: 0.86, style: {text: 'CNY Curncy (China Renminbi Spot) Daily 01JAN2017-17JUL2026', fill: '#c8c8c8', font: '9.5px ' + FONT, verticalAlign: 'middle'}},
  {type: 'text', x: 561, y: 474, scaleX: 0.86, style: {text: 'Copyright\u00a9 2026 Bloomberg Finance L.P.', fill: '#c8c8c8', font: '9.5px ' + FONT, align: 'center', verticalAlign: 'middle'}},
  {type: 'text', x: 965, y: 474, scaleX: 0.86, style: {text: '17-Jul-2026 17:11:11', fill: '#c8c8c8', font: '9.5px ' + FONT, align: 'right', verticalAlign: 'middle'}}
];

var option = {
  backgroundColor: '#000',
  animation: false,
  grid: {left: 49, right: 41, top: 1, bottom: 38},
  xAxis: [{
    type: 'value', min: X_MIN, max: X_MAX, interval: 0.25, position: 'bottom',
    axisLine: {show: true, onZero: false, lineStyle: {color: '#7a7a7a'}},
    axisTick: {show: true, length: 4, lineStyle: {color: '#8a8a8a'}},
    axisLabel: {show: false},
    splitLine: {show: false}
  }, {
    type: 'value', min: X_MIN, max: X_MAX, position: 'bottom',
    axisLine: {show: false, onZero: false},
    axisTick: {show: true, customValues: yearBreaks, length: 29, lineStyle: {color: '#4a4a4a'}},
    axisLabel: {show: true, customValues: yearLabelAt, margin: 13, color: '#d9d9d9', fontSize: 13, fontFamily: FONT,
      formatter: function (v) { return String(Math.floor(v)); }},
    splitLine: {show: false}
  }],
  yAxis: [{
    type: 'value', position: 'left', min: -3.541, max: 3.895,
    axisLine: {show: true, onZero: false, lineStyle: {color: '#8456ad'}},
    axisTick: {show: true, customValues: leftTicks, length: 4, lineStyle: {color: '#a46ad6'}},
    axisLabel: {show: true, customValues: leftLabels, margin: 6, color: '#d4d4d4', fontSize: 11.5, fontFamily: FONT,
      formatter: function (v) { return v.toFixed(4); }},
    splitLine: {show: false}
  }, {
    type: 'value', position: 'right', min: 6.140, max: 7.536,
    axisLine: {show: true, onZero: false, lineStyle: {color: '#6e6e6e'}},
    axisTick: {show: true, customValues: rightTicks, length: 4, lineStyle: {color: '#9a9a9a'}},
    axisLabel: {show: true, customValues: rightLabels, margin: 7, color: '#d4d4d4', fontSize: 11, fontFamily: FONT,
      formatter: function (v) { return v.toFixed(4); }},
    splitLine: {show: false}
  }],
  series: [{
    name: seriesNames[2], type: 'line', xAxisIndex: 0, yAxisIndex: 0,
    data: spreadData, showSymbol: false, silent: true,
    lineStyle: {color: PURPLE, width: 1.5},
    markPoint: {
      silent: true, symbol: 'path://M0,0H38L44,7L38,14H0Z', symbolSize: [43, 15], symbolOffset: [-23, 0],
      itemStyle: {color: PURPLE, borderColor: '#8a4fc0', borderWidth: 0.5},
      label: {show: true, position: 'inside', offset: [-2, 0], color: '#1e1e1e', fontSize: 11, fontFamily: FONT,
        formatter: function () { return lastPrices[2].toFixed(4); }},
      data: [{coord: [X_MIN, lastPrices[2]]}]
    }
  }, {
    name: seriesNames[0], type: 'line', xAxisIndex: 0, yAxisIndex: 1,
    data: spotData, showSymbol: false, silent: true,
    lineStyle: {color: WHITE, width: 1.5},
    markPoint: {
      silent: true, symbol: 'path://M0,7L6,0H44V14H6Z', symbolSize: [42, 15], symbolOffset: [21, 0],
      itemStyle: {color: WHITE},
      label: {show: true, position: 'inside', offset: [2, 0], color: '#000', fontSize: 11, fontFamily: FONT,
        formatter: function () { return lastPrices[0].toFixed(4); }},
      data: [{coord: [2026.70, lastPrices[0]]}]
    }
  }, {
    name: seriesNames[1], type: 'line', xAxisIndex: 0, yAxisIndex: 1,
    data: offshoreData, showSymbol: false, silent: true,
    lineStyle: {color: BLUE, width: 1.5},
    markArea: {
      silent: true,
      itemStyle: {color: 'rgba(0,0,0,0)', borderColor: '#ff0000', borderWidth: 2},
      label: {show: false},
      data: boxes.map(function (b) { return [{coord: [b[0], b[1]]}, {coord: [b[2], b[3]]}]; })
    }
  }],
  graphic: legendGraphics.concat(footer)
};

chart.setOption(option);
</script>
</body>
</html>
